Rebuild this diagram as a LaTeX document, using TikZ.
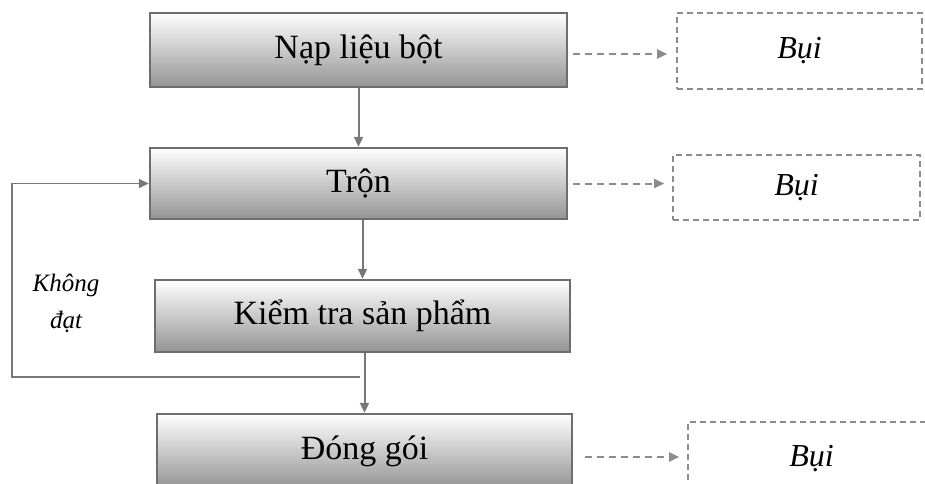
\documentclass[tikz,border=0pt]{standalone}
\usepackage{fontspec}
\setmainfont{Liberation Serif}
\usepackage{tikz}
\usetikzlibrary{arrows.meta,calc}
\definecolor{boxline}{HTML}{6E6E6E}
\definecolor{flowline}{HTML}{787878}
\definecolor{dustline}{HTML}{8C8C8C}

\begin{document}
\begin{tikzpicture}[x=1pt,y=-1pt,
    stepbox/.style={draw=boxline,line width=2.4pt,top color=white,bottom color=black!42,
      minimum width=417pt,inner sep=0pt,font=\fontsize{34}{40}\selectfont},
    dustbox/.style={draw=dustline,line width=1.6pt,dash pattern=on 6pt off 4pt,
      minimum width=247pt,inner sep=0pt,font=\fontsize{32}{38}\selectfont\itshape},
    flow/.style={draw=flowline,line width=2pt,-{Triangle[length=10pt,width=9pt]}},
    dust/.style={flow,draw=dustline,dash pattern=on 7pt off 5pt}]
  \useasboundingbox (0,0) rectangle (925,483);
  \clip (0,0) rectangle (925,483);
  \node[stepbox,minimum height=74pt] (nap) at (358.5,50) {Nạp liệu bột};
  \node[stepbox,minimum height=71pt] (tron) at (358.5,183.5) {Trộn};
  \node[stepbox,minimum width=415pt,minimum height=72pt] (kiem) at (362.5,316) {Kiểm tra sản phẩm};
  \node[stepbox,minimum width=415pt,minimum height=74pt] (dong) at (364.5,451) {Đóng gói};
  \node[dustbox,minimum width=245pt,minimum height=76pt] (bui1) at (799.5,51) {Bụi};
  \node[dustbox,minimum height=65pt] (bui2) at (796.5,187.5) {Bụi};
  \node[dustbox,minimum height=74pt] (bui3) at (811.5,459) {Bụi};
  \draw[flow] (nap.south) -- (tron.north);
  \draw[flow] (kiem.north |- tron.south) -- (kiem.north);
  \draw[flow] (dong.north |- kiem.south) -- (dong.north);
  \coordinate (back) at (360,377);
  \coordinate (corner) at (12,377);
  \draw[flow,line width=1.6pt] (back) -- (corner) |- (tron.west);
  \node[font=\fontsize{25}{37}\selectfont\itshape,align=center] (fail) at (66,303) {Không\\đạt};
  \draw[dust,shorten <=5pt,shorten >=9pt] ([yshift=-4pt]nap.east) -- ([yshift=-4pt]nap.east -| bui1.west);
  \draw[dust,shorten <=5pt,shorten >=8pt] (tron.east) -- (tron.east -| bui2.west);
  \draw[dust,shorten <=12pt,shorten >=8pt] ([yshift=-6pt]dong.east) -- ([yshift=-6pt]dong.east -| bui3.west);
\end{tikzpicture}
\end{document}
